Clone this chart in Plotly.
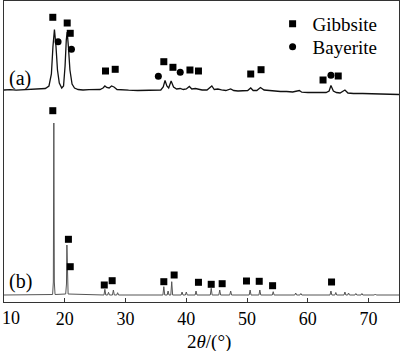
import plotly.graph_objects as go

# ---- curve (a): 2theta vs intensity (arbitrary units, offset) ----
a_x = [10, 11, 12, 13, 14, 15, 16, 16.8, 17.4, 17.8, 18.05, 18.3, 18.55, 18.8, 19.1, 19.5,
       19.8, 20.05, 20.25, 20.4, 20.6, 20.85, 21.2, 21.6, 22.2, 23, 24, 25, 25.8, 26.3,
       26.6, 26.9, 27.3, 27.7, 28.1, 28.6, 29.5, 30.5, 32, 33.5, 35, 35.8, 36.2, 36.5,
       36.8, 37.1, 37.5, 37.9, 38.4, 39.0, 39.5, 40.0, 40.5, 40.9, 41.5, 42.0, 42.6, 43.4,
       44.2, 44.6, 45.2, 45.8, 46.5, 47.3, 47.8, 48.5, 49.5, 50.1, 50.6, 51.0, 51.6, 52.2,
       52.8, 53.5, 54.5, 55.5, 56.5, 57.5, 58.6, 59.0, 60, 61, 62, 63.0, 63.5, 63.8, 64.2,
       64.7, 65.3, 66.1, 66.6, 67.5, 69, 70.5, 72, 73.5, 75]
a_y = [212, 212.3, 211.8, 212.2, 212, 212.5, 212.8, 213.5, 216, 228, 255, 272.5, 256, 232, 219, 214,
       216, 236, 262, 270, 255, 232, 218, 214, 212.5, 212, 212.3, 212, 212.5, 214,
       216, 214.5, 214, 216, 215, 212.5, 212, 211.8, 211.5, 211.7, 211.5, 212, 215, 221.5,
       216, 214, 221, 215, 213, 213.5, 212.5, 213, 215.5, 213, 213.5, 212.5, 212, 212,
       216, 212.5, 213, 212.2, 211.5, 213, 211.5, 211, 211, 211.5, 214, 211.5, 211.5, 214.5,
       212, 211.5, 211, 210.5, 210.5, 210, 211.5, 209.8, 209.5, 209.5, 209.3, 209.5, 211, 216.5, 211,
       209.5, 209, 212, 209, 208.5, 208.5, 208.3, 208, 207.8, 207.5]

# ---- curve (b) ----
b_x = [10, 17.0, 18.0, 18.12, 18.2, 18.28, 18.4, 20.15, 20.28, 20.35, 20.42, 20.55,
       26.45, 26.6, 26.75, 27.05, 27.2, 27.35, 27.85, 28.0, 28.15, 28.55, 28.7, 28.85,
       36.15, 36.3, 36.45, 36.85, 37.0, 37.15, 37.45, 37.6, 37.75, 39.15, 39.3, 39.45,
       39.85, 40.0, 40.15, 41.45, 41.6, 41.75, 43.95, 44.1, 44.25, 45.35, 45.5, 45.65,
       47.15, 47.3, 47.45, 50.35, 50.5, 50.65, 51.95, 52.1, 52.25, 54.15, 54.3, 54.45,
       57.85, 58.0, 58.15, 58.7, 58.85, 59.0, 63.65, 63.8, 63.95, 64.45, 64.6, 64.75,
       65.95, 66.1, 66.25, 66.55, 66.7, 66.85, 67.75, 67.9, 68.05, 68.75, 68.9, 69.05,
       70.95, 71.1, 71.25, 75]
b_y = [7, 7, 7.5, 20, 179, 20, 7.5, 8, 18, 57, 15, 8,
       7, 12.7, 7, 7, 9.7, 7, 7, 12, 7, 7, 9.3, 7,
       7, 15.3, 7, 7, 11, 7, 7, 20.3, 7, 7, 10, 7,
       7, 10, 7, 7, 11, 7, 7, 13.7, 7, 7, 12, 7,
       7, 11, 7, 7, 12, 7, 7, 12, 7, 7, 10.3, 7,
       7, 9, 7, 7, 8.5, 7, 7, 11, 7, 7, 9.5, 7,
       7, 10, 7, 7, 9, 7, 7, 8.5, 7, 7, 8.5, 7,
       7, 8, 7, 7]

# ---- phase markers ----
a_gib_x = [18.03, 20.4, 20.9, 26.7, 28.3, 36.3, 37.8, 40.6, 42.0, 50.6, 52.3, 62.5, 65.0]
a_gib_y = [284.7, 279, 268.7, 231, 232.7, 240.3, 234.7, 232, 231, 228, 232.3, 222, 226]
a_bay_x = [18.9, 21.1, 35.4, 39.0, 63.8]
a_bay_y = [260.3, 252.7, 225.7, 229.7, 226.7]
b_gib_x = [18.03, 20.6, 20.9, 26.5, 27.8, 36.3, 38.0, 42.0, 44.1, 45.9, 49.9, 52.0, 54.2, 63.9]
b_gib_y = [191.3, 62.7, 35.3, 17, 21.3, 20.3, 27, 19.7, 17.7, 18.3, 21, 20.7, 16.3, 20]

tick_vals = [10, 20, 30, 40, 50, 60, 70]
tick_text = ["", "20", "30", "40", "50", "60", "70"]

FONT = "Liberation Serif"

fig = go.Figure()
fig.add_trace(go.Scatter(x=a_x, y=a_y, mode="lines", line=dict(color="#111111", width=1.3),
                         showlegend=False, hoverinfo="skip"))
fig.add_trace(go.Scatter(x=b_x, y=b_y, mode="lines", line=dict(color="#555555", width=1),
                         showlegend=False, hoverinfo="skip"))
fig.add_trace(go.Scatter(x=a_gib_x, y=a_gib_y, mode="markers", name="Gibbsite",
                         marker=dict(symbol="square", size=7, color="black"),
                         legendgroup="g", showlegend=True, legend="legend"))
fig.add_trace(go.Scatter(x=b_gib_x, y=b_gib_y, mode="markers", name="Gibbsite",
                         marker=dict(symbol="square", size=7, color="black"),
                         legendgroup="g", showlegend=False))
fig.add_trace(go.Scatter(x=a_bay_x, y=a_bay_y, mode="markers", name="Bayerite",
                         marker=dict(symbol="circle", size=7, color="black"),
                         showlegend=True, legend="legend2"))

leg_common = dict(xanchor="left", yanchor="middle", bgcolor="rgba(0,0,0,0)",
                  font=dict(size=19, family=FONT), itemwidth=30, borderwidth=0)

fig.update_layout(
    width=400, height=351,
    margin=dict(l=4, r=1, t=1, b=49),
    paper_bgcolor="white", plot_bgcolor="white",
    font=dict(family=FONT, size=18, color="black"),
    showlegend=True,
    legend=dict(x=0.680, y=(302 - 24) / 301, **leg_common),
    legend2=dict(x=0.680, y=(302 - 47) / 301, **leg_common),
    xaxis=dict(range=[10, 75], tickvals=tick_vals, ticktext=tick_text,
               ticks="inside", ticklen=4, tickcolor="#333", tickwidth=1,
               showline=True, linecolor="#333", linewidth=1, mirror=True,
               showgrid=False, zeroline=False,
               tickfont=dict(family=FONT, size=18)),
    yaxis=dict(range=[0, 301], showticklabels=False, ticks="",
               showline=True, linecolor="#333", linewidth=1, mirror=True,
               showgrid=False, zeroline=False),
    annotations=[
        dict(text="10", xref="paper", yref="paper", x=0, y=0, xshift=-4, yshift=-4,
             xanchor="left", yanchor="top", showarrow=False, font=dict(size=18, family=FONT)),
        dict(text="2<i>θ</i>/(°)", xref="paper", yref="paper", x=(209 - 4) / 395, y=0,
             yshift=-27, xanchor="center", yanchor="top", showarrow=False,
             font=dict(size=19, family=FONT)),
        dict(text="(a)", xref="paper", yref="paper", x=0, y=(302 - 78) / 301, xshift=3,
             xanchor="left", yanchor="middle", showarrow=False, font=dict(size=20, family=FONT)),
        dict(text="(b)", xref="paper", yref="paper", x=0, y=(302 - 281) / 301, xshift=3,
             xanchor="left", yanchor="middle", showarrow=False, font=dict(size=20, family=FONT)),
    ],
)

fig.write_html("out.html")
